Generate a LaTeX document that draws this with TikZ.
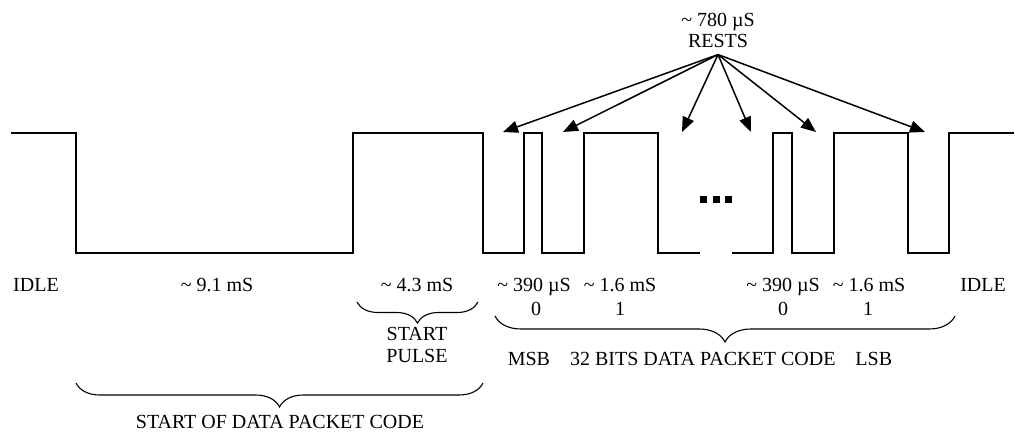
\documentclass[tikz,border=0pt]{standalone}
\usepackage{fontspec}
\setmainfont{Liberation Serif}
\usepackage{tikz}
\usetikzlibrary{arrows.meta, decorations.pathreplacing}
\newcommand{\apx}{\textasciitilde}
\tikzset{
    lbl/.style      ={inner sep=0pt, anchor=base, font=\fontsize{10pt}{12pt}\selectfont},
    signal/.style   ={line width=0.65pt, line join=miter},
    restarrow/.style={-{Triangle[length=7.5pt, width=6pt]}, line width=0.75pt},
    bracedown/.style={decorate, decoration={brace, mirror, amplitude=#1}, line width=0.55pt},
}

\begin{document}
\begin{tikzpicture}[x=0.5pt, y=-0.5pt]
    \useasboundingbox (0,0) rectangle (1015,432);

    % pulse train
    \draw[signal] (11,133) -- (76,133) -- (76,253) -- (353,253) -- (353,133) -- (483,133) -- (483,253)
        -- (524,253) -- (524,133) -- (542,133) -- (542,253) -- (584,253) -- (584,133) -- (658,133)
        -- (658,253) -- (700,253);
    \draw[signal] (732,253) -- (773,253) -- (773,133) -- (792,133) -- (792,253) -- (834,253)
        -- (834,133) -- (908,133) -- (908,253) -- (949,253) -- (949,133) -- (1014,133);
    \foreach \x in {703.5,716,728.5}
        \fill (\x-3.5,196) rectangle (\x+3.5,203);

    % rests
    \node[lbl] (restlen) at (718,27) {\apx{} 780 µS};
    \node[lbl, inner sep=3pt] (rests) at (718,48) {RESTS};
    \coordinate (r1) at (503,132);
    \coordinate (r2) at (563,132);
    \coordinate (r3) at (682,132);
    \coordinate (r4) at (751,132);
    \coordinate (r5) at (816,132);
    \coordinate (r6) at (925,132);
    \foreach \i in {1,...,6}
        \draw[restarrow] (rests.south) -- (r\i);

    % durations
    \node[lbl] (idleL) at (36,292) {IDLE};
    \node[lbl] (t91)   at (217,292) {\apx{} 9.1 mS};
    \node[lbl] (t43)   at (417,292) {\apx{} 4.3 mS};
    \node[lbl] (zeroA) at (534,292) {\apx{} 390 µS};
    \node[lbl] (oneA)  at (620,292) {\apx{} 1.6 mS};
    \node[lbl] (zeroB) at (783,292) {\apx{} 390 µS};
    \node[lbl] (oneB)  at (869,292) {\apx{} 1.6 mS};
    \node[lbl] (idleR) at (983,292) {IDLE};
    \node[lbl] (bitA)  at (536,315) {0};
    \node[lbl] (bitB)  at (620,315) {1};
    \node[lbl] (bitC)  at (783,315) {0};
    \node[lbl] (bitD)  at (868,315) {1};

    % braces
    \coordinate (pulseL) at (357,302);
    \coordinate (pulseR) at (478,302);
    \draw[bracedown=10.5pt] (pulseL) -- (pulseR);
    \node[lbl] (startw) at (417,340) {START};
    \node[lbl] (pulsew) at (417,362) {PULSE};

    \coordinate (dataL) at (495,316);
    \coordinate (dataR) at (955,316);
    \draw[bracedown=13pt] (dataL) -- (dataR);
    \node[lbl] (datacode) at (700,365) {MSB\quad 32 BITS DATA PACKET CODE\quad LSB};

    \coordinate (headL) at (76,383);
    \coordinate (headR) at (483,383);
    \draw[bracedown=12pt] (headL) -- (headR);
    \node[lbl] (headcode) at (280,428) {START OF DATA PACKET CODE};
\end{tikzpicture}
\end{document}
